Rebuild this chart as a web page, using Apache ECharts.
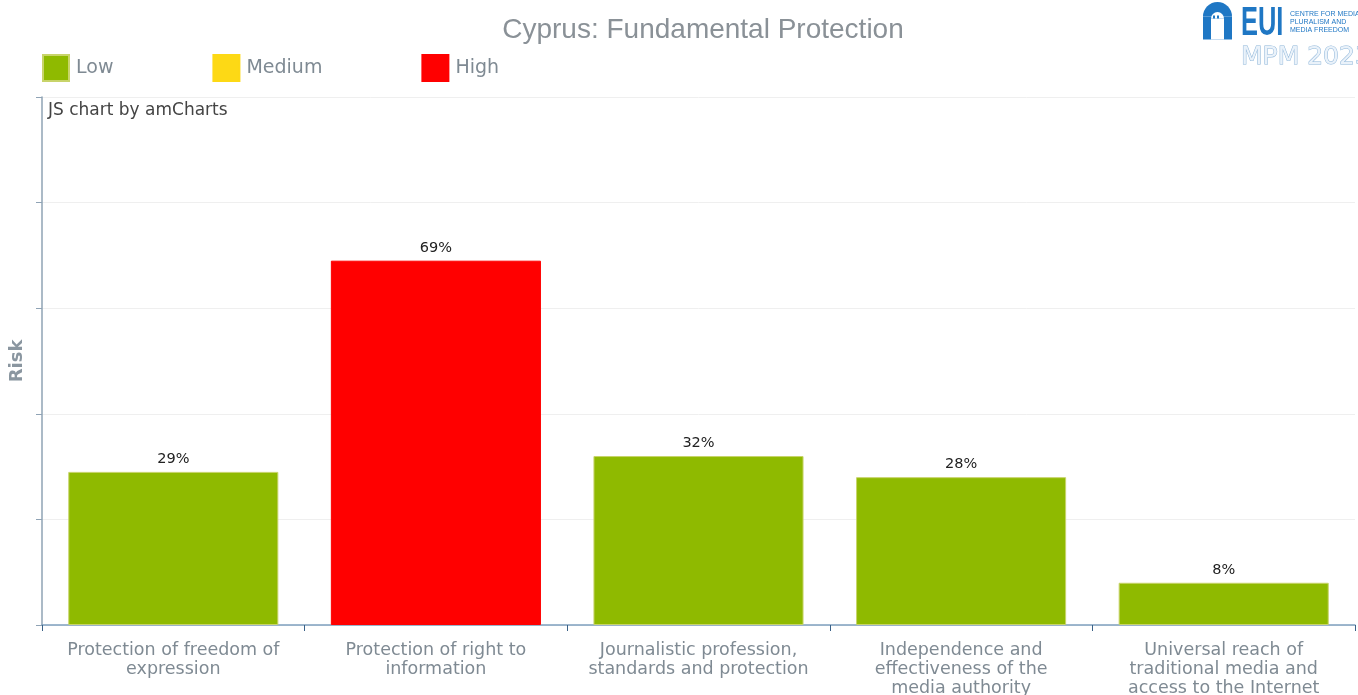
<!DOCTYPE html>
<html><head><meta charset="utf-8">
<script src="https://cdn.jsdelivr.net/npm/echarts@6/dist/echarts.min.js"></script>
<style>html,body{margin:0;padding:0;background:#fff}#c{width:1358px;height:695px}</style>
</head><body><div id="c"></div>
<script>
const categories = [
  "Protection of freedom of\nexpression",
  "Protection of right to\ninformation",
  "Journalistic profession,\nstandards and protection",
  "Independence and\neffectiveness of the\nmedia authority",
  "Universal reach of\ntraditional media and\naccess to the Internet"
];
const riskValues = [29, 69, 32, 28, 8];
const riskLevels = ["Low", "Medium", "High"];
const riskColors = {Low: "#8fba00", Medium: "#fdd915", High: "#ff0000"};
const yTicks = [0, 20, 40, 60, 80, 100];

function levelOf(v){ return v <= 33 ? "Low" : (v <= 66 ? "Medium" : "High"); }

const chart = echarts.init(document.getElementById('c'));
const series = riskLevels.map(lv => ({
  name: lv, type: 'bar', stack: 'risk', barCategoryGap: '20%',
  itemStyle: {color: riskColors[lv], borderColor: lv === 'Low' ? '#c8d46a' : riskColors[lv], borderWidth: 1},
  label: {show: true, position: 'top', formatter: '{c}%', color: '#222', fontFamily: 'DejaVu Sans', fontSize: 14.5, distance: 5},
  data: riskValues.map(v => levelOf(v) === lv ? v : null)
}));

chart.setOption({
  animation: false,
  title: {text: 'Cyprus: Fundamental Protection', left: 698, textAlign: 'center', top: 11,
    textStyle: {fontFamily: 'Liberation Sans', fontSize: 28, fontWeight: 'normal', color: '#8a9197'}},
  legend: {left: 42, top: 54, padding: 0, itemWidth: 26, itemHeight: 26, itemGap: 99, icon: 'rect',
    data: riskLevels,
    textStyle: {fontFamily: 'DejaVu Sans', fontSize: 19, color: '#7f8a93', padding: [0,0,0,2]}},
  grid: {left: 42, right: 3, top: 97, bottom: 70, outerBoundsMode: 'none', containLabel: false},
  xAxis: {type: 'category', data: categories,
    axisLine: {lineStyle: {color: '#7fa0bf', width: 1.5}},
    axisTick: {show: true, length: 6, lineStyle: {color: '#3a6187'}},
    axisLabel: {interval: 0, margin: 16, color: '#7f8a93', fontFamily: 'DejaVu Sans', fontSize: 17.5, lineHeight: 19}},
  yAxis: {type: 'value', min: yTicks[0], max: yTicks[yTicks.length-1], interval: 20,
    name: 'Risk', nameLocation: 'middle', nameGap: 16, nameRotate: 90,
    nameTextStyle: {fontFamily: 'DejaVu Sans', fontWeight: 'bold', fontSize: 18, color: '#8a96a0'},
    axisLine: {show: true, lineStyle: {color: '#8fa3b5', width: 1.5}},
    axisTick: {show: true, length: 6, lineStyle: {color: '#8fa3b5'}},
    axisLabel: {show: false},
    splitLine: {lineStyle: {color: '#efefef'}}},
  series: series,
  graphic: [
    {type: 'text', left: 48, top: 102, style: {text: 'JS chart by amCharts', font: '17px "DejaVu Sans"', fill: '#444'}},
    {type: 'group', left: 1203, top: 2, children: [
      {type: 'rect', shape: {x: 0, y: 16, width: 29, height: 23}, style: {fill: '#1f77c4'}},
      {type: 'sector', shape: {cx: 14.5, cy: 16, r: 14.5, r0: 0, startAngle: Math.PI, endAngle: 2*Math.PI}, style: {fill: '#1f77c4'}},
      {type: 'rect', shape: {x: 8, y: 18, width: 13, height: 21}, style: {fill: '#fff'}},
      {type: 'sector', shape: {cx: 14.5, cy: 18, r: 6.5, r0: 0, startAngle: Math.PI, endAngle: 2*Math.PI}, style: {fill: '#fff'}},
      {type: 'rect', shape: {x: 10, y: 15, width: 2, height: 3}, style: {fill: '#1f77c4'}},
      {type: 'rect', shape: {x: 14, y: 15, width: 2, height: 3}, style: {fill: '#1f77c4'}},
      {type: 'text', x: 38, y: 3, scaleX: 0.62, style: {text: 'EUI', font: 'bold 41px "Liberation Sans"', fill: '#1f77c4'}},
      {type: 'text', x: 87, y: 10, style: {text: 'CENTRE FOR MEDIA\nPLURALISM AND\nMEDIA FREEDOM', font: '7px "Liberation Sans"', fill: '#1f77c4', lineHeight: 8}},
      {type: 'text', x: 38, y: 44, style: {text: 'MPM 2023', font: '25px "DejaVu Sans"', fill: '#eaf2fa', stroke: '#8cb4d8', lineWidth: 1}}
    ]}
  ]
});
</script></body></html>
